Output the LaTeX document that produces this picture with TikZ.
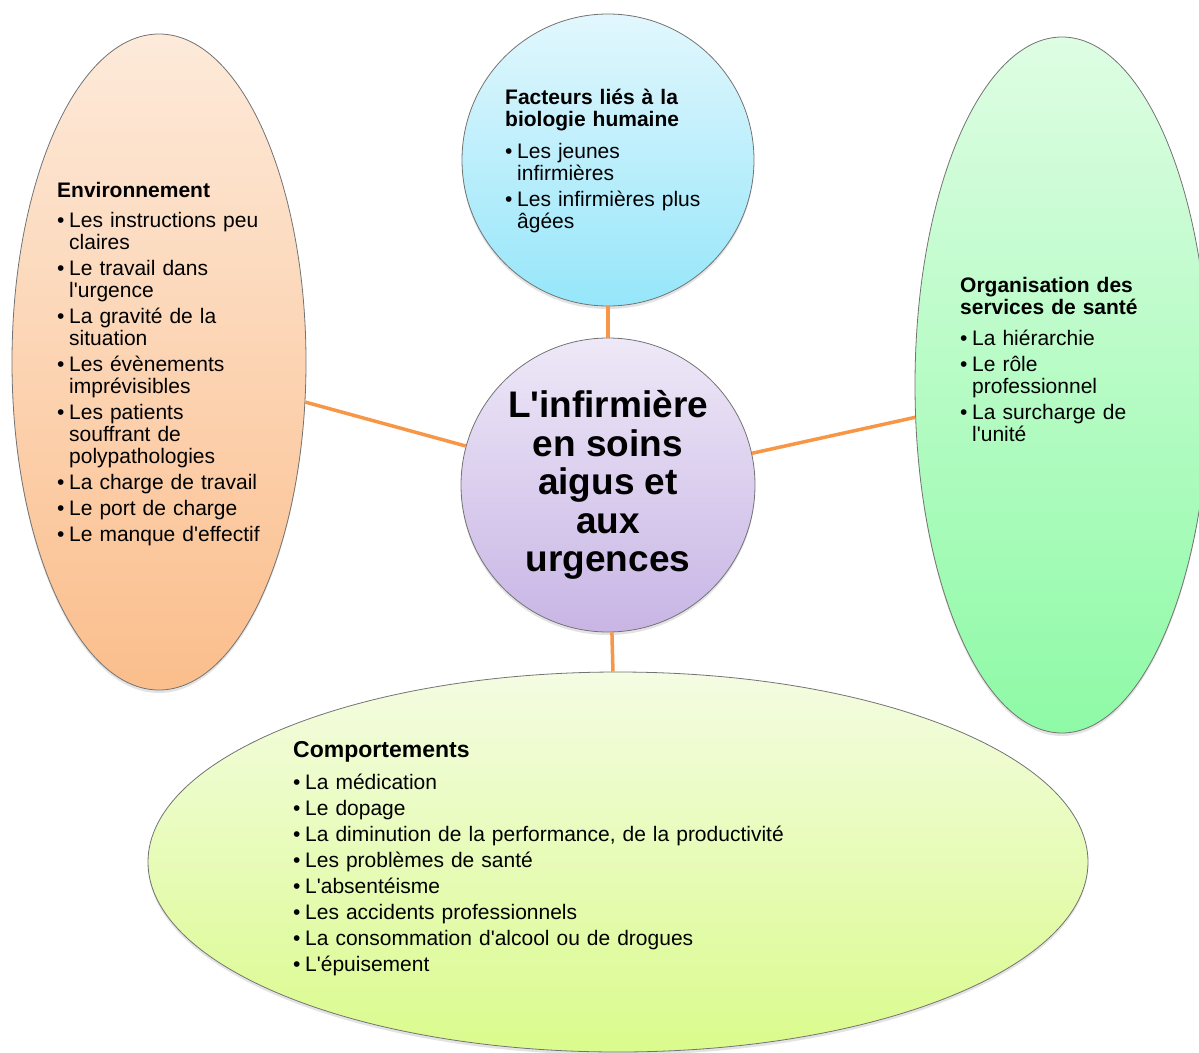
\documentclass[tikz,border=0pt]{standalone}
\usepackage{fontspec}
\newfontfamily\diagfont{Liberation Sans}
\usetikzlibrary{shapes.geometric,shadows}

\setlength{\parindent}{0pt}

\definecolor{linkorange}{RGB}{247,150,70}
\definecolor{envtop}{RGB}{253,234,218}
\definecolor{envbot}{RGB}{251,190,140}
\definecolor{biotop}{RGB}{226,247,253}
\definecolor{biobot}{RGB}{150,230,250}
\definecolor{nursetop}{RGB}{238,232,247}
\definecolor{nursebot}{RGB}{200,181,229}
\definecolor{orgtop}{RGB}{222,253,227}
\definecolor{orgbot}{RGB}{142,250,166}
\definecolor{comptop}{RGB}{244,252,226}
\definecolor{compbot}{RGB}{218,251,140}

% title line and bullet item of a text block
\newcommand{\ttl}[2][4pt]{{\bfseries #2\par}\vspace{#1}}
\newcommand{\blt}[1]{\par\setlength{\parskip}{4pt}\hangindent=12pt\hangafter=1%
  \makebox[12pt][l]{\textbullet}#1}

\begin{document}
\begin{tikzpicture}[
  x=1pt, y=-1pt,
  bubble/.style={draw=black!55, line width=0.8pt,
    drop shadow={opacity=0.22, shadow xshift=0pt, shadow yshift=-3pt}},
  txt/.style={anchor=north west, inner sep=0pt, align=left, text width=#1,
    font=\diagfont\fontsize{21}{22}\selectfont},
  link/.style={draw=linkorange, line width=3.5pt}
]
\useasboundingbox (0,0) rectangle (1199,1052);

% the five shapes
\node[bubble, ellipse, top color=envtop, bottom color=envbot,
  minimum width=294, minimum height=656] (env) at (159,362) {};
\node[bubble, circle, top color=biotop, bottom color=biobot,
  minimum size=292] (bio) at (608,160) {};
\node[bubble, ellipse, top color=orgtop, bottom color=orgbot,
  minimum width=294, minimum height=696] (org) at (1062,385) {};
\node[bubble, ellipse, top color=comptop, bottom color=compbot,
  minimum width=940, minimum height=380] (comp) at (618,862) {};
\node[bubble, circle, top color=nursetop, bottom color=nursebot,
  minimum size=294, inner sep=0pt, align=center,
  font=\diagfont\bfseries\fontsize{37}{38.5}\selectfont] (nurse) at (608,485)
  {L'infirmière\\en soins\\aigus et\\aux\\urgences};

\draw[link] (env) -- (nurse);
\draw[link] (bio) -- (nurse);
\draw[link] (nurse) -- (org);
\draw[link] (nurse) -- (comp);

% texts
\node[txt=260] (envtext) at (57,182) {\ttl{Environnement}%
  \blt{Les instructions peu\newline claires}%
  \blt{Le travail dans\newline l'urgence}%
  \blt{La gravité de la\newline situation}%
  \blt{Les évènements\newline imprévisibles}%
  \blt{Les patients\newline souffrant de\newline polypathologies}%
  \blt{La charge de travail}%
  \blt{Le port de charge}%
  \blt{Le manque d'effectif}\par};
\node[txt=240] (biotext) at (505,89) {\ttl[6pt]{Facteurs liés à la\newline biologie humaine}%
  \blt{Les jeunes\newline infirmières}%
  \blt{Les infirmières plus\newline âgées}\par};
\node[txt=230] (orgtext) at (960,277) {\ttl[5pt]{Organisation des\newline services de santé}%
  \blt{La hiérarchie}%
  \blt{Le rôle\newline professionnel}%
  \blt{La surcharge de\newline l'unité}\par};
\node[txt=560] (comptext) at (293,741) {\ttl[6pt]{\fontsize{23}{24}\selectfont Comportements}%
  \blt{La médication}%
  \blt{Le dopage}%
  \blt{La diminution de la performance, de la productivité}%
  \blt{Les problèmes de santé}%
  \blt{L'absentéisme}%
  \blt{Les accidents professionnels}%
  \blt{La consommation d'alcool ou de drogues}%
  \blt{L'épuisement}\par};
\end{tikzpicture}
\end{document}
